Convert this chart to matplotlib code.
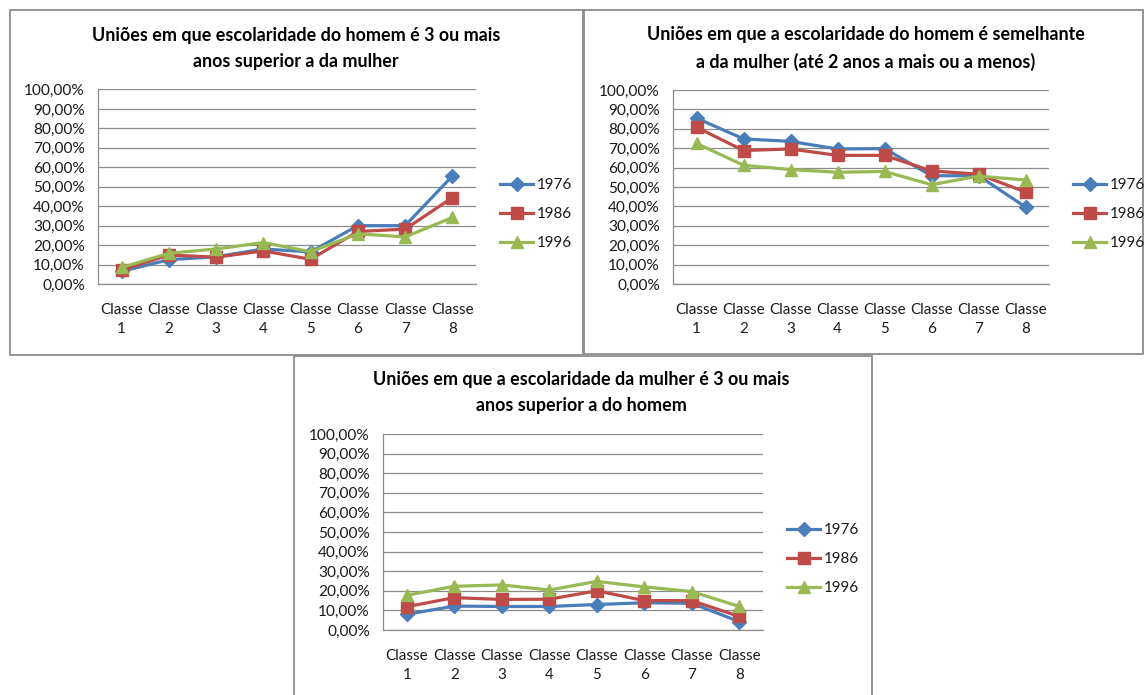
import matplotlib
matplotlib.use('Agg')
import matplotlib.pyplot as plt
from matplotlib.ticker import FuncFormatter, MultipleLocator
from matplotlib.patches import Rectangle

plt.rcParams['font.family'] = ['Lato', 'DejaVu Sans']

# categorias e séries
classes = ['Classe\n1', 'Classe\n2', 'Classe\n3', 'Classe\n4',
           'Classe\n5', 'Classe\n6', 'Classe\n7', 'Classe\n8']
anos = ['1976', '1986', '1996']

# homem com 3 ou mais anos de escolaridade a mais
homem_sup_1976 = [6.5, 12.5, 14.0, 18.0, 16.5, 30.0, 30.0, 55.5]
homem_sup_1986 = [7.2, 14.9, 13.8, 17.0, 12.7, 27.0, 28.2, 44.4]
homem_sup_1996 = [8.5, 15.8, 18.0, 21.3, 16.6, 25.8, 24.2, 34.2]

# escolaridade semelhante (até 2 anos de diferença)
semelhante_1976 = [85.5, 74.8, 73.5, 69.6, 69.8, 55.8, 55.8, 39.7]
semelhante_1986 = [80.8, 68.8, 69.6, 66.3, 66.3, 58.3, 56.6, 47.4]
semelhante_1996 = [72.5, 61.2, 59.0, 57.6, 58.0, 51.2, 55.6, 53.6]

# mulher com 3 ou mais anos de escolaridade a mais
mulher_sup_1976 = [8.0, 12.2, 12.0, 12.0, 13.0, 13.9, 13.6, 4.3]
mulher_sup_1986 = [11.9, 16.5, 15.6, 15.7, 20.0, 15.0, 15.0, 6.9]
mulher_sup_1996 = [17.7, 22.3, 23.0, 20.4, 24.8, 22.0, 19.6, 12.0]

titulos = [
    'Uniões em que escolaridade do homem é 3 ou mais\nanos superior a da mulher',
    'Uniões em que a escolaridade do homem é semelhante\na da mulher (até 2 anos a mais ou a menos)',
    'Uniões em que a escolaridade da mulher é 3 ou mais\nanos superior a do homem',
]

cores = ['#4A7EBB', '#BE4B48', '#98B954']
marcadores = ['D', 's', '^']
tam_marc = [7, 8.5, 8.5]

W, H = 1144, 695
fig = plt.figure(figsize=(W / 100, H / 100), dpi=100)


def caixa(l, t, r, b):
    return [l / W, 1 - b / H, (r - l) / W, (b - t) / H]


# molduras dos três gráficos
for (l, t, r, b) in [(10, 10, 583, 355), (584, 10, 1143, 354), (294, 356, 872, 700)]:
    fig.patches.append(Rectangle((l / W, 1 - b / H), (r - l) / W, (b - t) / H,
                                 transform=fig.transFigure, fill=False,
                                 edgecolor='#8C8C8C', lw=1.3, zorder=-1))

graficos = [
    (titulos[0], [homem_sup_1976, homem_sup_1986, homem_sup_1996],
     (98, 89.5, 476, 284), (296, 48.5), (500, 214)),
    (titulos[1], [semelhante_1976, semelhante_1986, semelhante_1996],
     (673, 90, 1049, 284), (866, 48.5), (1073, 214)),
    (titulos[2], [mulher_sup_1976, mulher_sup_1986, mulher_sup_1996],
     (383, 434, 763, 630), (581, 392.5), (787, 559)),
]

fmt = FuncFormatter(lambda v, p: ('%.2f%%' % v).replace('.', ','))

for titulo, series, area, pos_tit, pos_leg in graficos:
    ax = fig.add_axes(caixa(*area))
    ax.patch.set_alpha(0)
    x = range(len(classes))
    for i, s in enumerate(series):
        ax.plot(x, s, color=cores[i], lw=2.3, marker=marcadores[i],
                markersize=tam_marc[i], label=anos[i], zorder=3 + i)
    ax.set_xlim(-0.5, len(classes) - 0.5)
    ax.set_ylim(0, 100)
    ax.yaxis.set_major_locator(MultipleLocator(10))
    ax.yaxis.set_major_formatter(fmt)
    ax.set_xticks(list(x))
    ax.set_xticklabels(classes, linespacing=1.45)
    ax.grid(axis='y', color='#8C8C8C', lw=0.9)
    ax.set_axisbelow(True)
    for lado in ['top', 'right']:
        ax.spines[lado].set_visible(False)
    for lado in ['left', 'bottom']:
        ax.spines[lado].set_color('#8C8C8C')
        ax.spines[lado].set_linewidth(0.9)
    ax.tick_params(axis='y', length=0, pad=9.5, labelsize=11.1, labelcolor='#1A1A1A')
    ax.tick_params(axis='x', length=0, pad=14, labelsize=10.9, labelcolor='#1A1A1A')

    fig.text(pos_tit[0] / W, 1 - pos_tit[1] / H, titulo, ha='center', va='center',
             fontsize=12.9, fontweight='bold', linespacing=1.6, color='black')

    ax.legend(loc='center left', bbox_to_anchor=(pos_leg[0] / W, 1 - pos_leg[1] / H),
              bbox_transform=fig.transFigure, frameon=False, borderpad=0,
              borderaxespad=0, fontsize=10.9, handlelength=2.2, handletextpad=0.2,
              labelspacing=0.98, labelcolor='#1A1A1A')

fig.savefig('out.png', dpi=100)
